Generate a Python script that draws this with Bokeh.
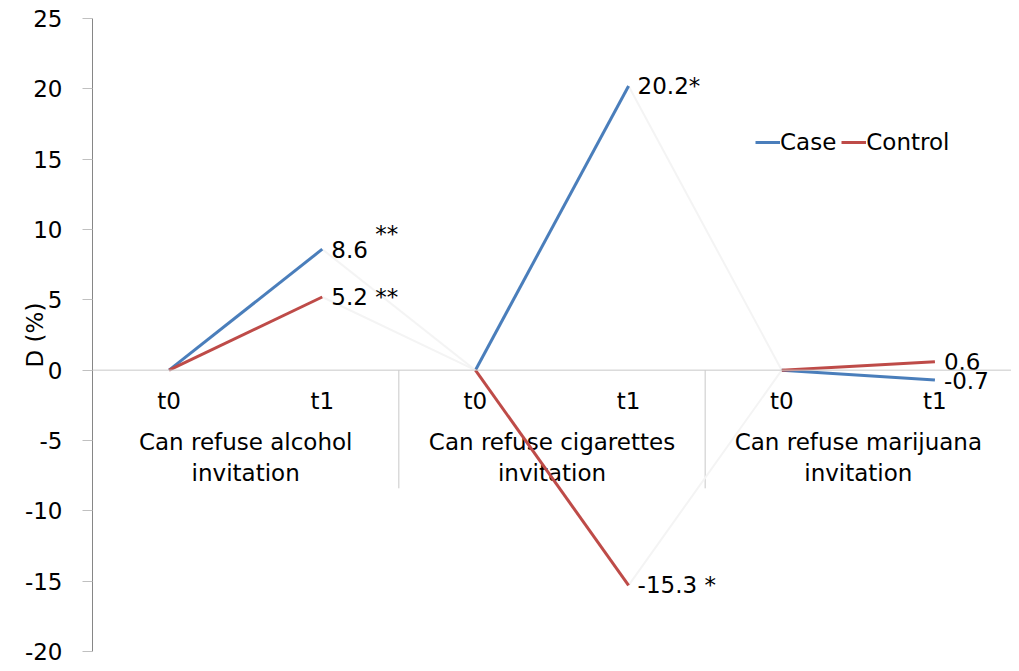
from bokeh.plotting import figure
from bokeh.models import Span, Legend, LegendItem, Range1d, FixedTicker
from bokeh.core.properties import value
from bokeh.embed import file_html
from bokeh.resources import INLINE

# ---- data ----
categories = ["Can refuse alcohol\ninvitation",
              "Can refuse cigarettes\ninvitation",
              "Can refuse marijuana\ninvitation"]
times = ["t0", "t1"]
case = [0, 8.6, 0, 20.2, 0, -0.7]
control = [0, 5.2, 0, -15.3, 0, 0.6]
case_labels = ["", "8.6", "", "20.2*", "", "-0.7"]
case_sig = ["", "**", "", "", "", ""]
control_labels = ["", "5.2 **", "", "-15.3 *", "", "0.6"]
y_ticks = [-20, -15, -10, -5, 0, 5, 10, 15, 20, 25]

FONT = "DejaVu Sans"
FS = "23px"
BLUE = "#4a7ebb"
RED = "#be4b48"

n = len(case)
xs = [i + 0.5 for i in range(n)]
group_x = [2 * g + 1 for g in range(len(categories))]
sep_x = [2 * g for g in range(1, len(categories))]

p = figure(width=1011, height=669, x_range=Range1d(0, n), y_range=Range1d(-20, 25),
           output_backend="svg", toolbar_location=None, x_axis_location=None,
           min_border_left=92, min_border_right=0, min_border_top=18, min_border_bottom=18)
p.outline_line_color = None
p.xgrid.grid_line_color = None
p.ygrid.grid_line_color = None
p.background_fill_color = "white"

ax = p.yaxis[0]
ax.ticker = FixedTicker(ticks=y_ticks)
ax.major_label_overrides = {t: str(t) for t in y_ticks}
ax.axis_line_color = "#868686"
ax.major_tick_line_color = "#c0c0c0"
ax.major_tick_in = 0
ax.major_tick_out = 10
ax.minor_tick_line_color = None
ax.major_label_text_font = FONT
ax.major_label_text_font_size = FS
ax.major_label_text_color = "black"
ax.major_label_standoff = 20
ax.axis_label = "D (%)"
ax.axis_label_text_font = FONT
ax.axis_label_text_font_size = FS
ax.axis_label_text_font_style = "normal"
ax.axis_label_text_color = "black"
ax.axis_label_standoff = -26

# horizontal axis line at zero
p.add_layout(Span(location=0, dimension="width", line_color="#c8c8c8", line_width=1))

# group separators
p.segment(x0=sep_x, y0=[0] * len(sep_x), x1=sep_x, y1=[-8.4] * len(sep_x),
          line_color="#c8c8c8", line_width=1)

# category labels
p.text(x=xs, y=[0] * n, text=times * len(categories), text_align="center",
       text_baseline="middle", y_offset=31, text_font=value(FONT),
       text_font_size=FS, text_color="black")
p.text(x=group_x, y=[0] * len(group_x), text=categories, text_align="center",
       text_baseline="middle", y_offset=87, text_line_height=1.2,
       text_font=value(FONT), text_font_size=FS, text_color="black")

# lines
def split(vals):
    main_x, main_y, faint_x, faint_y = [], [], [], []
    for i in range(len(vals) - 1):
        seg_x = [xs[i], xs[i + 1]]
        seg_y = [vals[i], vals[i + 1]]
        if i % 2 == 0:
            main_x.append(seg_x); main_y.append(seg_y)
        else:
            faint_x.append(seg_x); faint_y.append(seg_y)
    return main_x, main_y, faint_x, faint_y

renderers = {}
for name, vals, col in [("Case", case, BLUE), ("Control", control, RED)]:
    mx, my, fx, fy = split(vals)
    p.multi_line(xs=fx, ys=fy, line_color="#f4f4f4", line_width=2)
    renderers[name] = p.multi_line(xs=mx, ys=my, line_color=col, line_width=3)

# data labels
p.text(x=xs, y=case, text=case_labels, x_offset=9, text_baseline="middle",
       text_font=value(FONT), text_font_size=FS, text_color="black")
p.text(x=xs, y=case, text=case_sig, x_offset=53, y_offset=-15, text_baseline="middle",
       text_font=value(FONT), text_font_size=FS, text_color="black")
p.text(x=xs, y=control, text=control_labels, x_offset=9, text_baseline="middle",
       text_font=value(FONT), text_font_size=FS, text_color="black")

legend = Legend(items=[LegendItem(label="Case", renderers=[renderers["Case"]]),
                       LegendItem(label="Control", renderers=[renderers["Control"]])],
                orientation="horizontal", location=(663, 496),
                border_line_color=None, background_fill_alpha=0,
                padding=0, margin=0, spacing=5, glyph_width=25,
                label_standoff=0, label_text_font=FONT, label_text_font_size=FS,
                label_text_color="black")
p.add_layout(legend)

open("out.html", "w").write(file_html(p, INLINE))
